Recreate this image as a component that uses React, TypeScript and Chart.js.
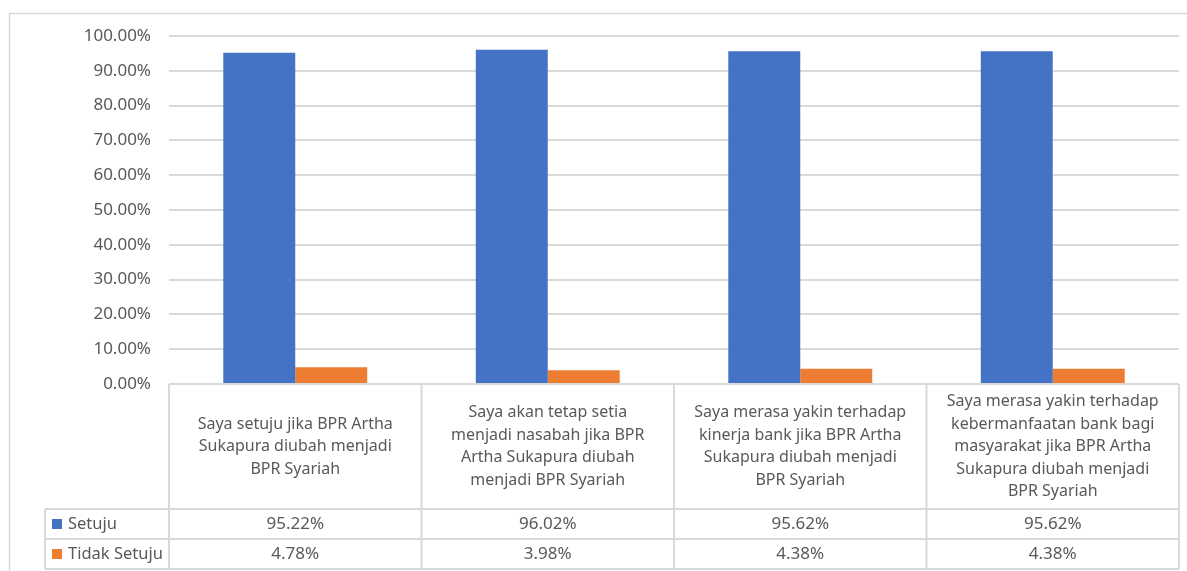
import React, { useEffect, useRef } from "react";
import { Chart, registerables } from "chart.js";

Chart.register(...registerables);

const categories: string[][] = [
  ["Saya setuju jika BPR Artha", "Sukapura diubah menjadi", "BPR Syariah"],
  ["Saya akan tetap setia", "menjadi nasabah jika BPR", "Artha Sukapura diubah", "menjadi BPR Syariah"],
  ["Saya merasa yakin terhadap", "kinerja bank jika BPR Artha", "Sukapura diubah menjadi", "BPR Syariah"],
  ["Saya merasa yakin terhadap", "kebermanfaatan bank bagi", "masyarakat jika BPR Artha", "Sukapura diubah menjadi", "BPR Syariah"],
];
const setuju = [95.22, 96.02, 95.62, 95.62];
const tidakSetuju = [4.78, 3.98, 4.38, 4.38];
const seriesNames = ["Setuju", "Tidak Setuju"];
const seriesColors = ["#4472C4", "#ED7D31"];

const FONT = "'Noto Sans', sans-serif";
const TEXT = "#595959";
const LINE = "#d9d9d9";

const tablePlugin = {
  id: "dataTable",
  afterDraw(chart: any) {
    const ctx = chart.ctx;
    const area = chart.chartArea;
    const x = chart.scales.x;
    const n = categories.length;
    const cw = (area.right - area.left) / n;
    const top = area.bottom;
    const headerBottom = top + 125;
    const rowH = 30;
    const legendLeft = 45;
    ctx.save();
    // frame
    ctx.strokeStyle = LINE;
    ctx.lineWidth = 1.5;
    ctx.beginPath();
    ctx.moveTo(9.5, chart.height);
    ctx.lineTo(9.5, 13.5);
    ctx.lineTo(chart.width, 13.5);
    ctx.stroke();
    // table lines
    ctx.lineWidth = 2;
    ctx.beginPath();
    ctx.moveTo(area.left, top);
    ctx.lineTo(area.right, top);
    for (let r = 0; r <= 2; r++) {
      const yy = headerBottom + r * rowH;
      ctx.moveTo(legendLeft, yy);
      ctx.lineTo(area.right, yy);
    }
    ctx.moveTo(legendLeft, headerBottom);
    ctx.lineTo(legendLeft, headerBottom + 2 * rowH);
    for (let i = 0; i <= n; i++) {
      const xx = area.left + i * cw;
      ctx.moveTo(xx, top);
      ctx.lineTo(xx, headerBottom + 2 * rowH);
    }
    ctx.stroke();
    // header text
    ctx.fillStyle = TEXT;
    ctx.font = `16px ${FONT}`;
    ctx.textAlign = "center";
    ctx.textBaseline = "middle";
    const lh = 22.5;
    const hc = (top + headerBottom) / 2;
    categories.forEach((lines, i) => {
      const cx = x.getPixelForValue(i);
      const y0 = hc - ((lines.length - 1) * lh) / 2;
      lines.forEach((l, j) => ctx.fillText(l, cx, y0 + j * lh));
    });
    // values
    const data = [setuju, tidakSetuju];
    data.forEach((arr, r) => {
      const cy = headerBottom + r * rowH + rowH / 2;
      ctx.font = `17px ${FONT}`;
      arr.forEach((v, i) => {
        ctx.fillText(v.toFixed(2) + "%", x.getPixelForValue(i), cy);
      });
      ctx.fillStyle = seriesColors[r];
      ctx.fillRect(52, cy - 5, 10, 10);
      ctx.fillStyle = TEXT;
      ctx.textAlign = "left";
      ctx.font = `16.5px ${FONT}`;
      ctx.fillText(seriesNames[r], 68, cy);
      ctx.textAlign = "center";
    });
    ctx.restore();
  },
};

export default function App() {
  const ref = useRef<HTMLCanvasElement>(null);
  useEffect(() => {
    const chart = new Chart(ref.current!, {
      type: "bar",
      data: {
        labels: categories.map((c) => c.join(" ")),
        datasets: [
          { label: seriesNames[0], data: setuju, backgroundColor: seriesColors[0] },
          { label: seriesNames[1], data: tidakSetuju, backgroundColor: seriesColors[1] },
        ],
      },
      options: {
        animation: false,
        responsive: false,
        maintainAspectRatio: false,
        layout: { padding: { left: 9, right: 8, top: 36, bottom: 187 } },
        plugins: { legend: { display: false }, tooltip: { enabled: false } },
        datasets: { bar: { categoryPercentage: 0.57, barPercentage: 1 } },
        scales: {
          x: { display: false },
          y: {
            min: 0,
            max: 100,
            afterFit: (s: any) => {
              s.width = 160;
            },
            ticks: {
              stepSize: 10,
              color: TEXT,
              font: { family: FONT, size: 17 },
              padding: 18,
              callback: (v: any) => Number(v).toFixed(2) + "%",
            },
            grid: { color: LINE, lineWidth: 2, drawTicks: false },
            border: { display: false },
          },
        },
      },
      plugins: [tablePlugin],
    });
    return () => chart.destroy();
  }, []);
  return (
    <div style={{ position: "fixed", left: 0, top: 0, width: 1187, height: 571, background: "#fff" }}>
      <canvas ref={ref} width={1187} height={571} style={{ width: 1187, height: 571 }} />
    </div>
  );
}
